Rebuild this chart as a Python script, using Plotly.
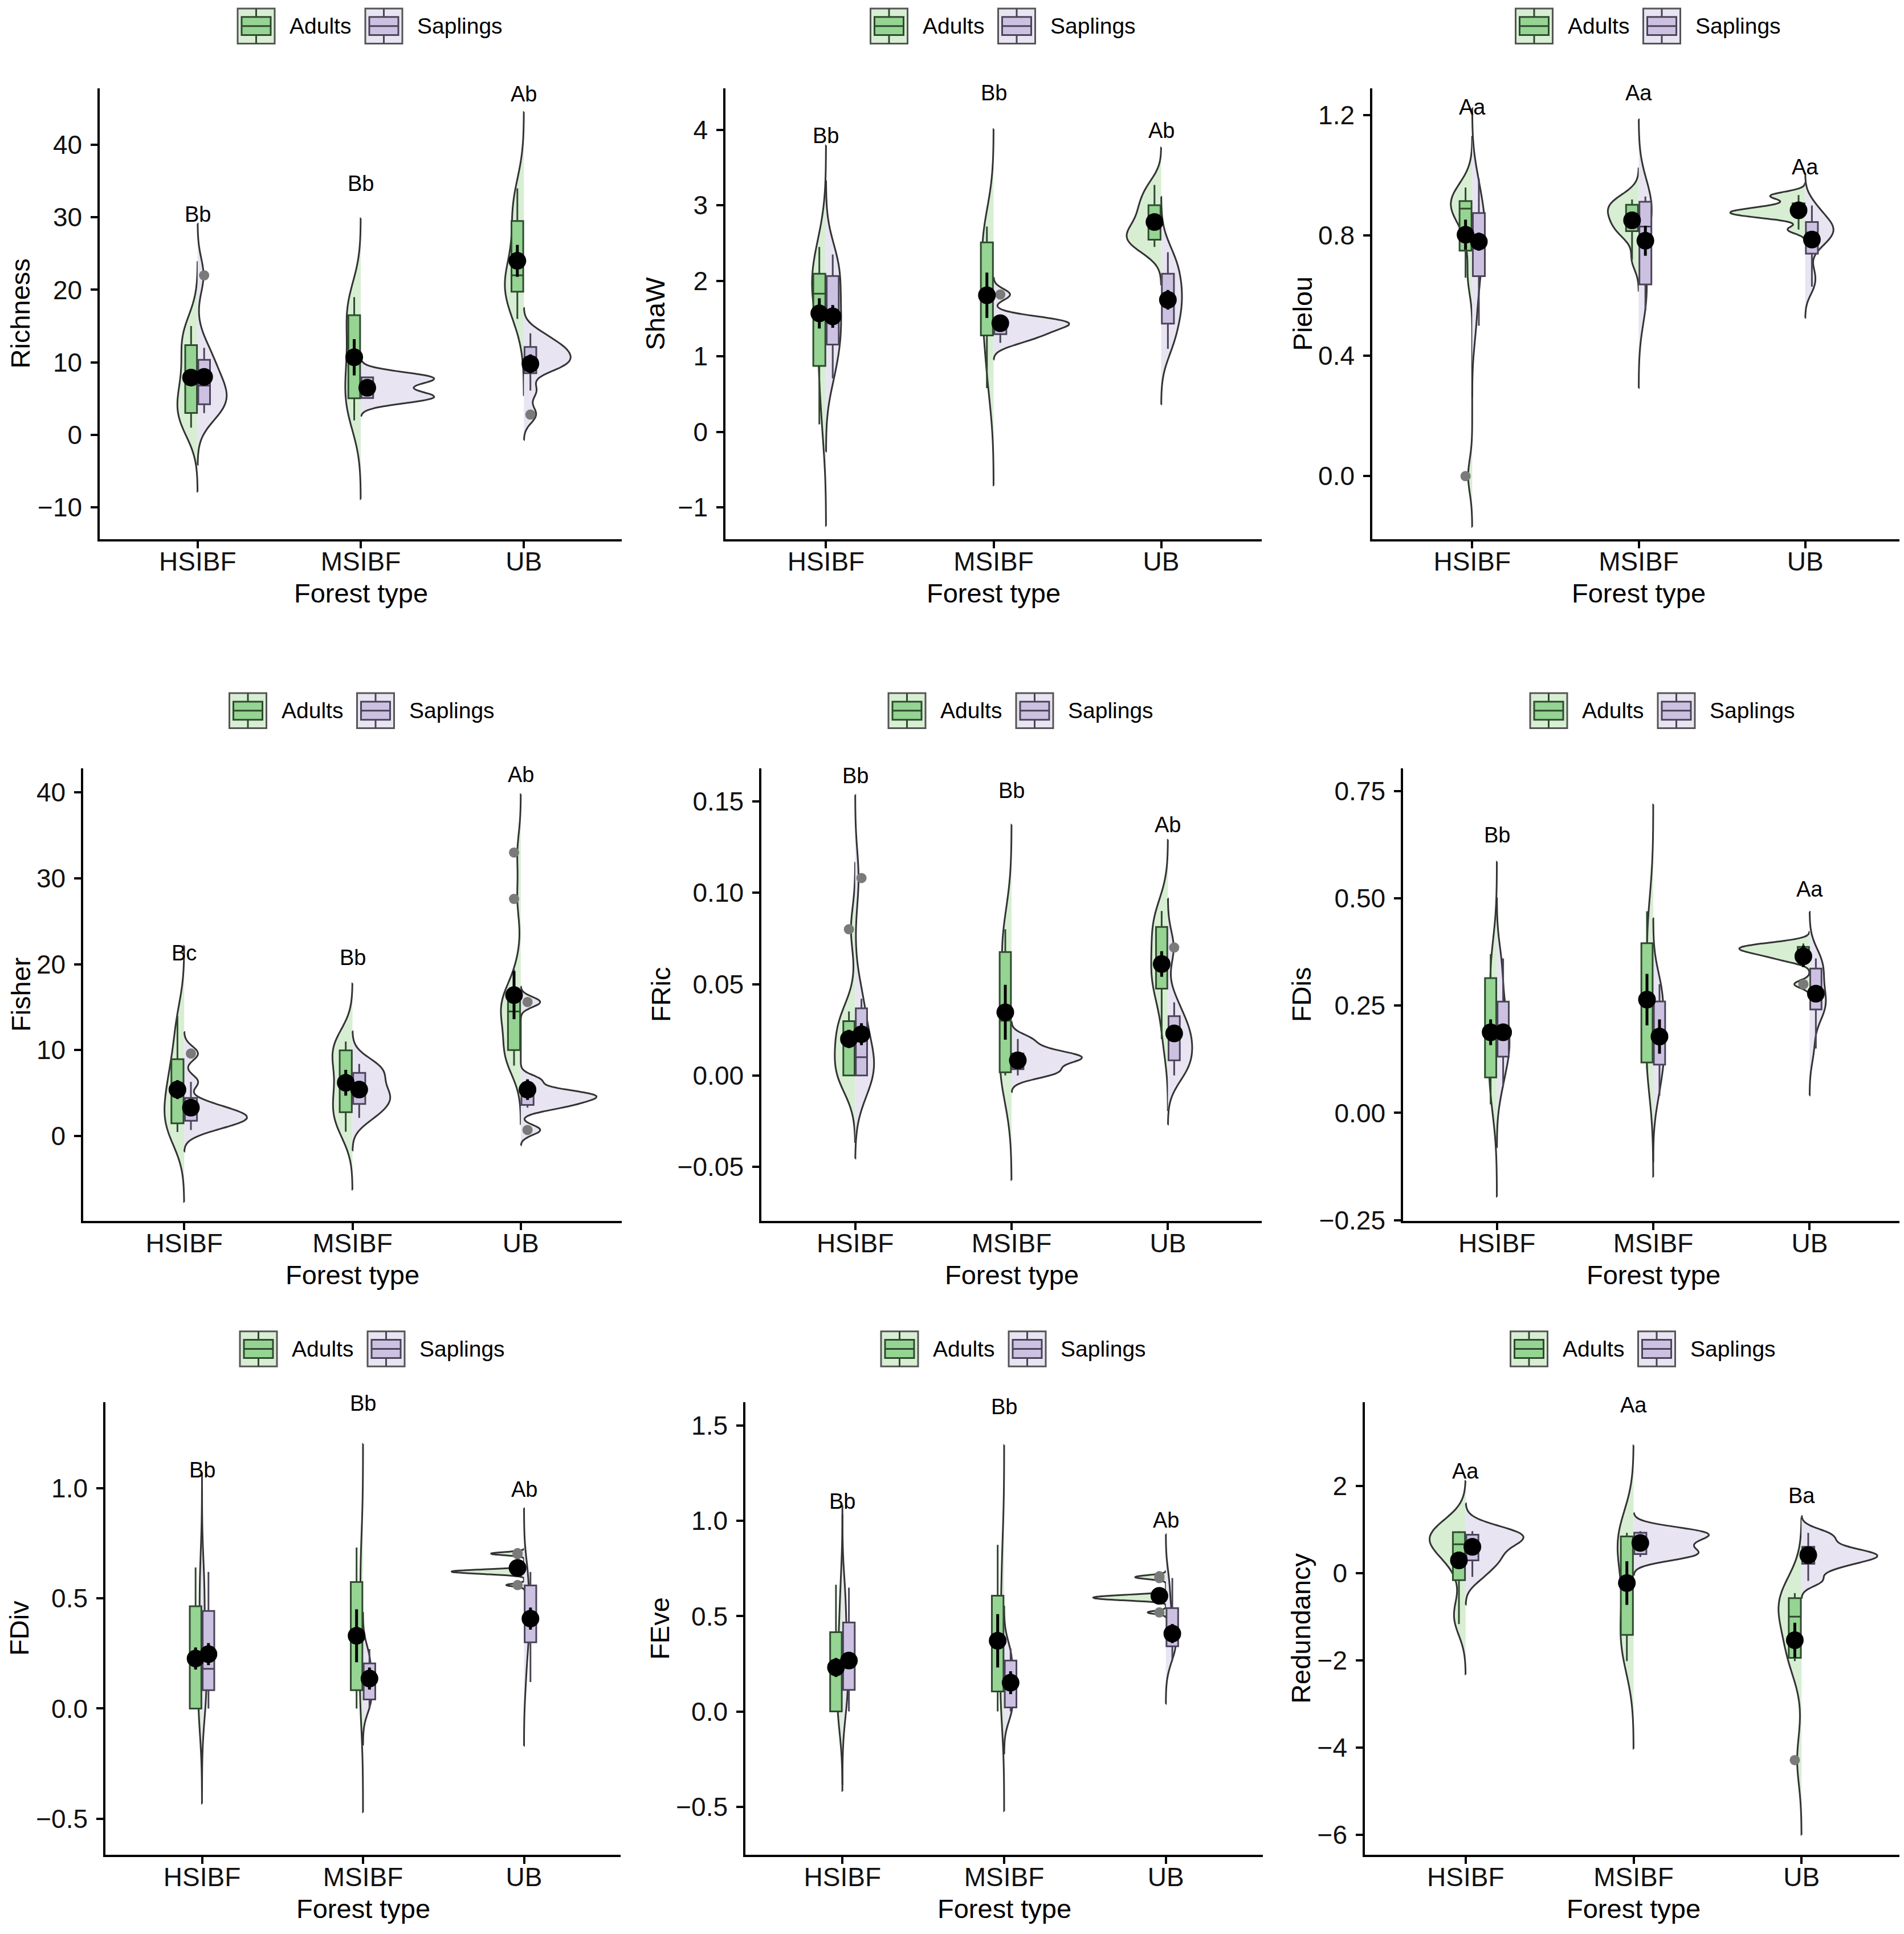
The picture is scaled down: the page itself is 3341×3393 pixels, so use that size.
import numpy as np
import plotly.graph_objects as go

W, H = 3341, 3393
FONT = "Liberation Sans, Arial, sans-serif"

forest_types = ["HSIBF", "MSIBF", "UB"]
metrics = ["Richness", "ShaW", "Pielou", "Fisher", "FRic", "FDis", "FDiv", "FEve", "Redundancy"]

# plot-level observations (HSIBF, MSIBF, UB), estimated from boxes and violins
richness_adults = [[1, 2.5, 3.2, 5, 7, 9, 12, 13.5, 15],
                   [2, 4, 5.4, 8, 10, 13, 16, 18, 19],
                   [16, 19, 20, 21, 22, 25, 29, 31, 34]]
richness_saplings = [[3, 4, 4.3, 5.5, 6.8, 8, 9.8, 12, 22],
                     [5, 5, 5.1, 5.5, 6.5, 7.5, 7.9, 8, 8],
                     [2.8, 6.1, 9.3, 9.5, 10.5, 11, 12, 12.5, 14]]

shaw_adults = [[0.1, 0.8, 0.9, 1.6, 1.83, 1.9, 2.06, 2.2, 2.45],
               [0.58, 1.0, 1.37, 1.6, 1.8, 2.1, 2.48, 2.6, 2.72],
               [2.45, 2.5, 2.56, 2.62, 2.7, 2.85, 2.97, 3.1, 3.27]]
shaw_saplings = [[0.71, 1.0, 1.21, 1.4, 1.55, 1.8, 2.02, 2.2, 2.35],
                 [1.18, 1.28, 1.3, 1.38, 1.42, 1.45, 1.47, 1.5, 1.82],
                 [1.1, 1.3, 1.48, 1.65, 1.75, 1.9, 2.06, 2.2, 2.38]]

pielou_adults = [[0.0, 0.66, 0.78, 0.86, 0.89, 0.9, 0.91, 0.93, 0.96],
                 [0.72, 0.8, 0.82, 0.84, 0.86, 0.88, 0.9, 0.91, 0.92],
                 [0.82, 0.86, 0.87, 0.875, 0.88, 0.885, 0.9, 0.93, 0.935]]
pielou_saplings = [[0.5, 0.62, 0.68, 0.75, 0.8, 0.84, 0.86, 0.92, 0.99],
                   [0.55, 0.6, 0.65, 0.75, 0.83, 0.88, 0.91, 0.92, 0.93],
                   [0.63, 0.68, 0.76, 0.79, 0.81, 0.82, 0.84, 0.86, 0.9]]

fisher_adults = [[0.47, 1.0, 1.63, 3.5, 5.0, 6.5, 8.26, 11, 14],
                 [0.5, 2.0, 3.03, 4.5, 6.0, 8.0, 9.8, 10.5, 11.0],
                 [8.2, 9, 9.5, 10, 12, 13, 14, 15, 15.8, 16.0, 16.3, 19.4, 27.6, 33]]
fisher_saplings = [[0.7, 1.5, 1.87, 2.2, 2.5, 3.0, 3.8, 6.3, 9.6],
                   [2.1, 3.0, 3.97, 4.5, 5.0, 6.0, 7.2, 7.8, 8.4],
                   [0.7, 3.3, 3.73, 4.3, 4.6, 4.9, 5.1, 6.5, 15.6]]

fric_adults = [[0, 0, 0, 0.01, 0.018, 0.025, 0.028, 0.035, 0.08],
               [0, 0.001, 0.002, 0.015, 0.03, 0.05, 0.065, 0.075, 0.08],
               [0.02, 0.04, 0.05, 0.055, 0.06, 0.07, 0.08, 0.085, 0.09]]
fric_saplings = [[0, 0, 0, 0.005, 0.01, 0.02, 0.035, 0.042, 0.108],
                 [0, 0.002, 0.004, 0.008, 0.01, 0.01, 0.011, 0.015, 0.02],
                 [0, 0.005, 0.0094, 0.015, 0.02, 0.025, 0.03, 0.04, 0.07]]

fdis_adults = [[0.02, 0.07, 0.087, 0.15, 0.18, 0.22, 0.309, 0.33, 0.37],
               [0.1, 0.11, 0.12, 0.2, 0.26, 0.33, 0.384, 0.43, 0.47],
               [0.3, 0.355, 0.365, 0.372, 0.378, 0.382, 0.386, 0.39, 0.395]]
fdis_saplings = [[0.06, 0.11, 0.138, 0.16, 0.18, 0.21, 0.246, 0.3, 0.36],
                 [0.04, 0.09, 0.12, 0.15, 0.18, 0.2, 0.253, 0.28, 0.3],
                 [0.15, 0.22, 0.248, 0.255, 0.265, 0.3, 0.332, 0.35, 0.36]]

fdiv_adults = [[0.0, 0.0, 0.0, 0.1, 0.2, 0.3, 0.435, 0.55, 0.64],
               [0.0, 0.05, 0.094, 0.2, 0.3, 0.45, 0.548, 0.65, 0.73],
               [0.56, 0.61, 0.615, 0.62, 0.622, 0.625, 0.63, 0.7, 0.705]]
fdiv_saplings = [[0.0, 0.05, 0.094, 0.15, 0.18, 0.3, 0.417, 0.52, 0.62],
                 [0.0, 0.03, 0.045, 0.09, 0.12, 0.16, 0.196, 0.23, 0.27],
                 [0.12, 0.25, 0.317, 0.36, 0.4, 0.47, 0.548, 0.59, 0.62]]

feve_adults = [[0, 0, 0, 0.12, 0.22, 0.3, 0.388, 0.5, 0.665],
               [0, 0.06, 0.12, 0.25, 0.35, 0.45, 0.577, 0.7, 0.875],
               [0.52, 0.585, 0.59, 0.595, 0.6, 0.605, 0.61, 0.7, 0.71]]
feve_saplings = [[0, 0.08, 0.124, 0.2, 0.26, 0.33, 0.439, 0.55, 0.65],
                 [0, 0.01, 0.025, 0.1, 0.15, 0.2, 0.256, 0.3, 0.33],
                 [0.27, 0.33, 0.346, 0.37, 0.4, 0.45, 0.523, 0.6, 0.7]]

redundancy_adults = [[-1.17, -0.8, 0.046, 0.5, 0.66, 0.75, 0.935, 0.95, 0.96],
                     [-2.02, -1.6, -1.36, -0.8, -0.2, 0.4, 0.825, 0.88, 0.92],
                     [-4.29, -2.02, -1.92, -1.5, -1.0, -0.8, -0.6, -0.5, -0.46]]
redundancy_saplings = [[-0.09, 0.2, 0.32, 0.5, 0.7, 0.82, 0.87, 0.9, 0.96],
                       [0.37, 0.42, 0.44, 0.6, 0.7, 0.82, 0.92, 0.94, 0.96],
                       [-0.18, 0.1, 0.25, 0.35, 0.4, 0.45, 0.55, 0.75, 0.92]]

adults = dict(zip(metrics, [richness_adults, shaw_adults, pielou_adults, fisher_adults, fric_adults,
                            fdis_adults, fdiv_adults, feve_adults, redundancy_adults]))
saplings = dict(zip(metrics, [richness_saplings, shaw_saplings, pielou_saplings, fisher_saplings,
                              fric_saplings, fdis_saplings, fdiv_saplings, feve_saplings,
                              redundancy_saplings]))

# mean +/- SE points
mean_adults = {"Richness": [7.9, 10.7, 24.0], "ShaW": [1.57, 1.81, 2.78], "Pielou": [0.803, 0.851, 0.884],
               "Fisher": [5.4, 6.2, 16.4], "FRic": [0.020, 0.0346, 0.061], "FDis": [0.188, 0.264, 0.365],
               "FDiv": [0.227, 0.33, 0.638], "FEve": [0.231, 0.371, 0.607], "Redundancy": [0.29, -0.23, -1.54]}
se_adults = {"Richness": [1.0, 2.5, 2.2], "ShaW": [0.2, 0.3, 0.1], "Pielou": [0.05, 0.02, 0.01],
             "Fisher": [1.1, 1.5, 2.8], "FRic": [0.005, 0.015, 0.007], "FDis": [0.03, 0.06, 0.025],
             "FDiv": [0.05, 0.12, 0.02], "FEve": [0.05, 0.14, 0.04], "Redundancy": [0.2, 0.5, 0.4]}
mean_saplings = {"Richness": [8.0, 6.5, 9.8], "ShaW": [1.53, 1.44, 1.75], "Pielou": [0.78, 0.783, 0.787],
                 "Fisher": [3.3, 5.4, 5.4], "FRic": [0.0226, 0.0083, 0.023], "FDis": [0.188, 0.178, 0.278],
                 "FDiv": [0.247, 0.136, 0.408], "FEve": [0.267, 0.151, 0.409], "Redundancy": [0.6, 0.69, 0.41]}
se_saplings = {"Richness": [1.0, 0.6, 1.3], "ShaW": [0.15, 0.08, 0.13], "Pielou": [0.03, 0.05, 0.02],
               "Fisher": [0.8, 0.8, 1.2], "FRic": [0.006, 0.004, 0.004], "FDis": [0.02, 0.04, 0.02],
               "FDiv": [0.05, 0.05, 0.05], "FEve": [0.04, 0.06, 0.05], "Redundancy": [0.1, 0.08, 0.15]}

# significance letters and the height they are written at
letters = {"Richness": ["Bb", "Bb", "Ab"], "ShaW": ["Bb", "Bb", "Ab"], "Pielou": ["Aa", "Aa", "Aa"],
           "Fisher": ["Bc", "Bb", "Ab"], "FRic": ["Bb", "Bb", "Ab"], "FDis": ["Bb", "Bb", "Aa"],
           "FDiv": ["Bb", "Bb", "Ab"], "FEve": ["Bb", "Bb", "Ab"], "Redundancy": ["Aa", "Aa", "Ba"]}
letter_y = {"Richness": [30.4, 34.7, 47.0], "ShaW": [3.92, 4.49, 3.99], "Pielou": [1.227, 1.274, 1.029],
            "Fisher": [21.3, 20.8, 42.1], "FRic": [0.164, 0.156, 0.137], "FDis": [0.648, 0.804, 0.521],
            "FDiv": [1.081, 1.384, 0.994], "FEve": [1.102, 1.599, 1.005], "Redundancy": [2.34, 3.85, 1.77]}

y_range = {"Richness": [-14.4, 47.8], "ShaW": [-1.42, 4.55], "Pielou": [-0.21, 1.29],
           "Fisher": [-9.9, 42.8], "FRic": [-0.0796, 0.168], "FDis": [-0.252, 0.803],
           "FDiv": [-0.663, 1.39], "FEve": [-0.752, 1.624], "Redundancy": [-6.46, 3.92]}
y_ticks = {"Richness": [-10, 0, 10, 20, 30, 40], "ShaW": [-1, 0, 1, 2, 3, 4], "Pielou": [0, 0.4, 0.8, 1.2],
           "Fisher": [0, 10, 20, 30, 40], "FRic": [-0.05, 0, 0.05, 0.1, 0.15],
           "FDis": [-0.25, 0, 0.25, 0.5, 0.75], "FDiv": [-0.5, 0, 0.5, 1.0],
           "FEve": [-0.5, 0, 0.5, 1.0, 1.5], "Redundancy": [-6, -4, -2, 0, 2]}
tick_fmt = {"Pielou": ".1f", "FRic": ".2f", "FDis": ".2f", "FDiv": ".1f", "FEve": ".1f"}

# panel frames in pixels
panel_x0 = [167, 1265, 2400, 138, 1328, 2454, 177, 1300, 2387]
panel_x1 = [1083, 2206, 3335, 1083, 2206, 3332, 1081, 2208, 3330]
row_top = [148, 1350, 2470]
row_bottom = [945, 2150, 3270]
legend_gap = [110, 102, 94]
ytitle_gap = [140, 124, 123, 110, 177, 179, 151, 150, 112]

ADULT_VIOLIN = "#d7eed3"
ADULT_BOX = "#95d492"
ADULT_EDGE = "#2f4a2f"
SAP_VIOLIN = "#e8e4f1"
SAP_BOX = "#cdc1e2"
SAP_EDGE = "#4a4458"
VIOLIN_LINE = "#333333"


def px(x):
    return x / W


def py(y):
    return 1 - y / H


def bw_nrd0(vals):
    # same rule of thumb as R's density() default
    v = np.asarray(vals, dtype=float)
    q75, q25 = np.percentile(v, [75, 25])
    lo = min(np.std(v, ddof=1), (q75 - q25) / 1.34)
    if lo <= 0:
        lo = np.std(v, ddof=1)
    return 0.9 * lo * len(v) ** -0.2


fig = go.Figure()
annotations = []
shapes = []

for i, m in enumerate(metrics):
    n = i + 1
    xa, ya = ("x", "y") if n == 1 else (f"x{n}", f"y{n}")
    for group, data, side, vcol, bcol, ecol, og in [
        ("Adults", adults[m], "negative", ADULT_VIOLIN, ADULT_BOX, ADULT_EDGE, "A"),
        ("Saplings", saplings[m], "positive", SAP_VIOLIN, SAP_BOX, SAP_EDGE, "S"),
    ]:
        for ft, vals in zip(forest_types, data):
            bw = bw_nrd0(vals)
            # one scale group per panel: widths follow the density, like ggplot's scale="area"
            fig.add_trace(go.Violin(
                x=[ft] * len(vals), y=vals, side=side, scalegroup=f"p{n}",
                scalemode="width", bandwidth=bw, spanmode="manual",
                span=[min(vals) - 3 * bw, max(vals) + 3 * bw], points=False, fillcolor=vcol,
                line=dict(color=VIOLIN_LINE, width=3), hoverinfo="skip",
                showlegend=False, xaxis=xa, yaxis=ya, name=group,
            ))
        xs = [ft for ft, vals in zip(forest_types, data) for _ in vals]
        ys = [v for vals in data for v in vals]
        fig.add_trace(go.Box(
            x=xs, y=ys, offsetgroup=og, fillcolor=bcol, line=dict(color=ecol, width=3),
            whiskerwidth=0, boxpoints="outliers",
            marker=dict(color="#7a7a7a", size=18, line=dict(width=0)),
            showlegend=False, xaxis=xa, yaxis=ya, name=group,
        ))
    for group, means, ses, og in [("Adults", mean_adults[m], se_adults[m], "A"),
                                  ("Saplings", mean_saplings[m], se_saplings[m], "S")]:
        fig.add_trace(go.Scatter(
            x=forest_types, y=means, mode="markers", offsetgroup=og,
            marker=dict(color="black", size=31),
            error_y=dict(type="data", array=ses, color="black", thickness=5, width=0),
            showlegend=False, xaxis=xa, yaxis=ya, name=group,
        ))

    row = i // 3
    x0, x1 = panel_x0[i], panel_x1[i]
    top, bot = row_top[row], row_bottom[row]
    axis_style = dict(showline=True, linecolor="black", linewidth=3.5, ticks="outside",
                      ticklen=12, tickwidth=3.5, tickcolor="black", showgrid=False, zeroline=False)
    fig.layout[("xaxis" if n == 1 else f"xaxis{n}")] = dict(
        domain=[px(x0), px(x1)], anchor=ya, type="category",
        categoryorder="array", categoryarray=forest_types, range=[-0.6, 2.6],
        tickfont=dict(size=46, color="#111", family=FONT), ticklabelstandoff=-16, **axis_style)
    fig.layout[("yaxis" if n == 1 else f"yaxis{n}")] = dict(
        domain=[py(bot), py(top)], anchor=xa, range=y_range[m], tickvals=y_ticks[m],
        tickformat=tick_fmt.get(m, "d"), tickfont=dict(size=46, color="#111", family=FONT),
        ticklabelstandoff=6, **axis_style)

    for ft, lab, ly in zip(forest_types, letters[m], letter_y[m]):
        annotations.append(dict(x=ft, y=ly, xref=xa, yref=ya, text=lab, showarrow=False,
                                xanchor="center", yanchor="middle",
                                font=dict(size=38, color="black", family=FONT)))

    cx = (x0 + x1) / 2
    annotations.append(dict(x=px(cx), y=py(bot + 95), xref="paper", yref="paper",
                            text="Forest type", showarrow=False, xanchor="center", yanchor="middle",
                            font=dict(size=47, color="black", family=FONT)))
    annotations.append(dict(x=px(x0 - ytitle_gap[i]), y=py((top + bot) / 2), xref="paper",
                            yref="paper", text=m, textangle=-90, showarrow=False,
                            xanchor="center", yanchor="middle",
                            font=dict(size=47, color="black", family=FONT)))

    # legend keys above each panel
    lx = cx + 14 - 230
    cy = top - legend_gap[row]
    for label, kx, light, mid, edge in [("Adults", lx, ADULT_VIOLIN, ADULT_BOX, ADULT_EDGE),
                                        ("Saplings", lx + 224, SAP_VIOLIN, SAP_BOX, SAP_EDGE)]:
        shapes.append(dict(type="rect", xref="paper", yref="paper",
                           x0=px(kx), x1=px(kx + 65), y0=py(cy + 31), y1=py(cy - 31),
                           fillcolor=light, line=dict(color="#555", width=3)))
        shapes.append(dict(type="line", xref="paper", yref="paper",
                           x0=px(kx + 32.5), x1=px(kx + 32.5), y0=py(cy + 31), y1=py(cy - 31),
                           line=dict(color=edge, width=3)))
        shapes.append(dict(type="rect", xref="paper", yref="paper",
                           x0=px(kx + 7), x1=px(kx + 58), y0=py(cy + 16), y1=py(cy - 16),
                           fillcolor=mid, line=dict(color=edge, width=3)))
        shapes.append(dict(type="line", xref="paper", yref="paper",
                           x0=px(kx + 7), x1=px(kx + 58), y0=py(cy), y1=py(cy),
                           line=dict(color=edge, width=3)))
        annotations.append(dict(x=px(kx + 89), y=py(cy), xref="paper", yref="paper",
                                text=label, showarrow=False, xanchor="left", yanchor="middle",
                                font=dict(size=39, color="black", family=FONT)))

fig.update_layout(
    width=W, height=H, margin=dict(l=0, r=0, t=0, b=0),
    paper_bgcolor="white", plot_bgcolor="white",
    font=dict(family=FONT, color="black"),
    violinmode="overlay", violingap=0.1, violingroupgap=0,
    boxmode="group", boxgap=0.84, boxgroupgap=0.1,
    scattermode="group", scattergap=0.84,
    annotations=annotations, shapes=shapes, showlegend=False,
)

fig.write_html("out.html")
